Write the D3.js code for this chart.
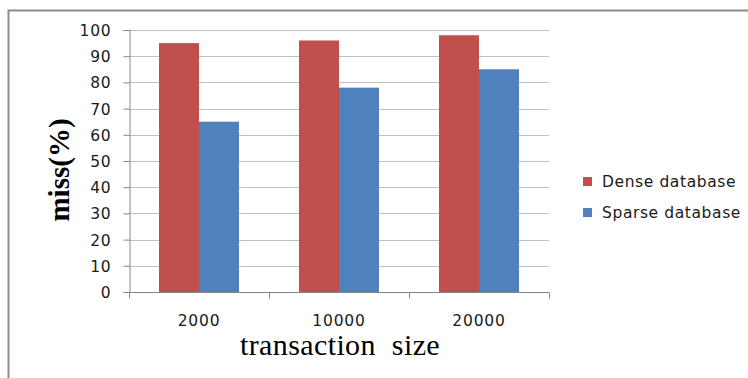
<!DOCTYPE html>
<html>
<head>
<meta charset="utf-8">
<script src="https://cdn.jsdelivr.net/npm/d3@7"></script>
<style>
  body { margin: 0; background: #fff; }
  svg { display: block; }
</style>
</head>
<body>
<div id="chart"></div>
<script>
// data
const categories = ["2000", "10000", "20000"];
const seriesNames = ["Dense database", "Sparse database"];
const denseValues = [95, 96, 98];
const sparseValues = [65, 78, 85];
const yTicks = [0, 10, 20, 30, 40, 50, 60, 70, 80, 90, 100];

const colors = ["#C0504D", "#4F81BD"];
const seriesValues = [denseValues, sparseValues];

const W = 748, H = 378;
const plot = {left: 129, right: 549, top: 30, bottom: 292};

const svg = d3.select("#chart").append("svg")
    .attr("width", W)
    .attr("height", H);

// outer frame (clipped on the right / bottom like the original)
svg.append("rect")
    .attr("x", 8.5).attr("y", 10.5)
    .attr("width", 800).attr("height", 400)
    .attr("fill", "none")
    .attr("stroke", "#8c8c8c")
    .attr("stroke-width", 2);

// scales
const x = d3.scaleBand()
    .domain(categories)
    .range([plot.left, plot.right])
    .paddingInner(0)
    .paddingOuter(0);

const y = d3.scaleLinear()
    .domain([0, 100])
    .range([plot.bottom, plot.top]);

const barW = 40;

// gridlines
svg.append("g")
    .selectAll("line")
    .data(yTicks.filter(d => d > 0))
    .join("line")
    .attr("x1", plot.left).attr("x2", plot.right)
    .attr("y1", d => Math.round(y(d)) + 0.5)
    .attr("y2", d => Math.round(y(d)) + 0.5)
    .attr("stroke", "#bfbfbf")
    .attr("stroke-width", 1);

// bars
seriesValues.forEach((vals, si) => {
    svg.append("g")
        .selectAll("rect")
        .data(vals)
        .join("rect")
        .attr("x", (d, i) => x(categories[i]) + x.bandwidth() / 2 - barW + si * barW)
        .attr("y", d => y(d))
        .attr("width", barW)
        .attr("height", d => y(0) - y(d))
        .attr("fill", colors[si]);
});

// y axis
const yAxis = d3.axisLeft(y)
    .tickValues(yTicks)
    .tickSize(6)
    .tickPadding(12);

const gy = svg.append("g")
    .attr("transform", "translate(" + (plot.left + 0.5) + ",0)")
    .call(yAxis);
gy.select(".domain").attr("stroke", "#868686");
gy.selectAll(".tick line").attr("stroke", "#868686");
gy.selectAll("text")
    .attr("font-family", "DejaVu Sans")
    .attr("font-size", 15.5)
    .attr("letter-spacing", 0.8)
    .attr("fill", "#1a1a1a")
    .attr("dy", "0.36em");

// x axis
const xAxis = d3.axisBottom(x)
    .tickSize(0)
    .tickPadding(22);

const gx = svg.append("g")
    .attr("transform", "translate(0," + (plot.bottom + 0.5) + ")")
    .call(xAxis);
gx.select(".domain").attr("stroke", "#868686").attr("d", "M" + plot.left + ",0H" + plot.right);
gx.selectAll("text")
    .attr("font-family", "DejaVu Sans")
    .attr("font-size", 15.5)
    .attr("letter-spacing", 0.8)
    .attr("fill", "#1a1a1a");

// category boundary ticks
gx.append("g")
    .selectAll("line")
    .data(categories.concat(["end"]))
    .join("line")
    .attr("x1", (d, i) => plot.left + i * x.bandwidth() + 0.5)
    .attr("x2", (d, i) => plot.left + i * x.bandwidth() + 0.5)
    .attr("y1", 0).attr("y2", 6)
    .attr("stroke", "#868686");

// axis titles
svg.append("text")
    .attr("transform", "translate(69,170) rotate(-90)")
    .attr("text-anchor", "middle")
    .attr("font-family", "Liberation Serif")
    .attr("font-weight", "bold")
    .attr("font-size", 29)
    .attr("fill", "#000")
    .text("miss(%)");

svg.append("text")
    .attr("x", 340).attr("y", 355)
    .attr("text-anchor", "middle")
    .attr("font-family", "Liberation Serif")
    .attr("font-size", 30)
    .attr("letter-spacing", 0.4)
    .attr("word-spacing", 8)
    .attr("fill", "#000")
    .text("transaction size");

// legend
const legend = svg.append("g");
seriesNames.forEach((name, i) => {
    const ly = 177 + i * 31;
    legend.append("rect")
        .attr("x", 583).attr("y", ly)
        .attr("width", 9).attr("height", 9)
        .attr("fill", colors[i]);
    legend.append("text")
        .attr("x", 602).attr("y", ly + 10)
        .attr("font-family", "DejaVu Sans")
        .attr("font-size", 15.5)
        .attr("letter-spacing", 0.6)
        .attr("fill", "#1a1a1a")
        .text(name);
});
</script>
</body>
</html>
